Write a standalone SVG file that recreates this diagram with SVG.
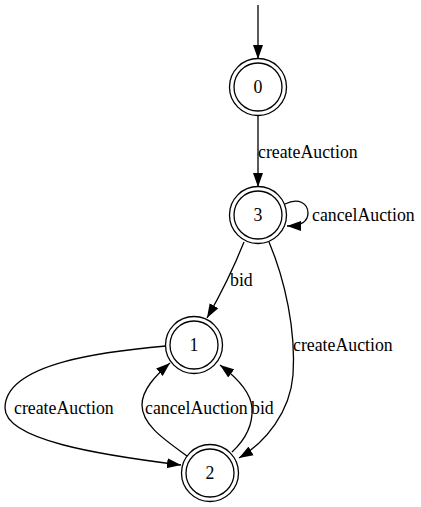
<svg xmlns="http://www.w3.org/2000/svg" width="421" height="507" viewBox="0 0 421 507">
<style>
text{font-family:"Liberation Serif","Times New Roman",serif;font-size:17.8px;fill:#000}
.n text{text-anchor:middle}
.n circle{fill:none;stroke:#000;stroke-width:1.3}
.e path{fill:none;stroke:#000;stroke-width:1.3}
</style>
<defs>
<marker id="ah" markerUnits="userSpaceOnUse" markerWidth="15" markerHeight="11" viewBox="0 0 15 11" refX="14" refY="5.5" orient="auto">
<path d="M0,0.5 L14,5.5 L0,10.5 Z" fill="#000"/>
</marker>
</defs>
<rect width="421" height="507" fill="#fff"/>
<g id="edges" class="e">
<path d="M258,5 L258,59" marker-end="url(#ah)"/>
<path d="M258,115 L258,187" marker-end="url(#ah)"/>
<path d="M285,204 C299,197 308,204 308,213 C308,222 301,226 287,226" marker-end="url(#ah)"/>
<path d="M244,242 C236,262 222,292 207,318" marker-end="url(#ah)"/>
<path d="M269,242 C285,280 296,330 293,375 C290,412 266,442 239,458" marker-end="url(#ah)"/>
<path d="M166,346 C110,351 5,362 5,408 C5,440 100,455 181,465" marker-end="url(#ah)"/>
<path d="M187,456 C165,440 142,425 142,405 C142,390 155,376 170,363" marker-end="url(#ah)"/>
<path d="M232,452 C245,440 253,425 252,408 C251,392 236,377 220,365" marker-end="url(#ah)"/>
<text x="258" y="158">createAuction</text>
<text x="312" y="221">cancelAuction</text>
<text x="230" y="286">bid</text>
<text x="293" y="351">createAuction</text>
<text x="14" y="414">createAuction</text>
<text x="145" y="414">cancelAuction</text>
<text x="251" y="414">bid</text>
</g>
<g id="node0" class="n"><circle cx="258" cy="87" r="24"/><circle cx="258" cy="87" r="28.5"/><text x="258" y="93">0</text></g>
<g id="node3" class="n"><circle cx="258" cy="215" r="24"/><circle cx="258" cy="215" r="28.5"/><text x="258" y="221">3</text></g>
<g id="node1" class="n"><circle cx="194" cy="345" r="24"/><circle cx="194" cy="345" r="28.5"/><text x="194" y="351">1</text></g>
<g id="node2" class="n"><circle cx="210" cy="473" r="24"/><circle cx="210" cy="473" r="28.5"/><text x="210" y="479">2</text></g>
</svg>
